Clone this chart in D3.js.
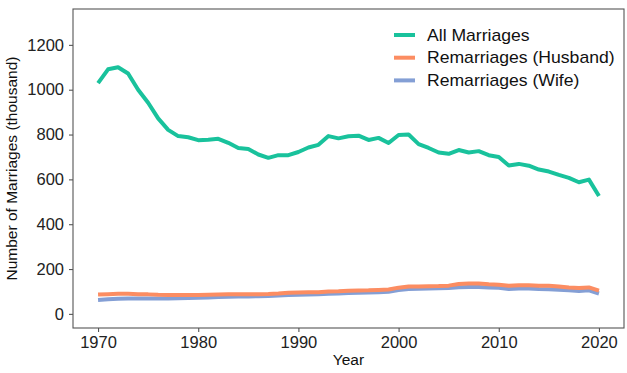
<!DOCTYPE html>
<html>
<head>
<meta charset="utf-8">
<script src="https://cdn.jsdelivr.net/npm/d3@7"></script>
<style>
  body { margin: 0; background: #fff; }
  text { font-family: "Liberation Sans", Arial, sans-serif; }
</style>
</head>
<body>
<svg id="chart" width="627" height="373"></svg>
<script>
// data (thousands)
var years = d3.range(1970, 2021);
var allMarriages = [1029, 1091, 1100, 1072, 1000, 942, 872, 821, 793, 788,
  775, 777, 781, 763, 740, 736, 711, 696, 708, 708,
  722, 742, 754, 793, 783, 792, 795, 776, 785, 762,
  798, 800, 757, 740, 720, 714, 731, 720, 726, 708,
  700, 662, 669, 661, 644, 635, 620, 607, 587, 599, 526];
var remHusband = [86, 88, 90, 90, 88, 87, 85, 84, 84, 84,
  84, 85, 86, 87, 87, 88, 88, 89, 91, 94,
  95, 96, 97, 100, 101, 103, 104, 105, 107, 109,
  117, 122, 122, 123, 124, 126, 133, 135, 135, 132,
  130, 125, 128, 128, 126, 125, 122, 118, 115, 118, 104];
var remWife = [62, 65, 68, 69, 69, 69, 69, 69, 70, 71,
  72, 73, 75, 76, 77, 78, 79, 80, 82, 84,
  85, 86, 87, 90, 91, 93, 94, 95, 97, 99,
  106, 111, 112, 113, 114, 115, 119, 120, 120, 118,
  116, 111, 113, 113, 111, 110, 108, 105, 102, 105, 91];
var seriesNames = ["All Marriages", "Remarriages (Husband)", "Remarriages (Wife)"];
var seriesColors = ["#19C29C", "#FC8D62", "#849FD5"];
var yTicks = [0, 200, 400, 600, 800, 1000, 1200];
var xTicks = [1970, 1980, 1990, 2000, 2010, 2020];

var svg = d3.select("#chart");
var margin = {left: 73, right: 3, top: 9, bottom: 45};
var width = 627 - margin.left - margin.right;
var height = 373 - margin.top - margin.bottom;

var x = d3.scaleLinear().domain([1967.5, 2022.5]).range([0, width]);
var y = d3.scaleLinear().domain([-63, 1360]).range([height, 0]);

var g = svg.append("g")
  .attr("transform", "translate(" + margin.left + "," + margin.top + ")");

// panel border
g.append("rect")
  .attr("width", width).attr("height", height)
  .attr("fill", "none").attr("stroke", "#555").attr("stroke-width", 1.1);

var xAxis = g.append("g")
  .attr("transform", "translate(0," + height + ")")
  .call(d3.axisBottom(x).tickValues(xTicks).tickFormat(d3.format("d")).tickSize(4).tickPadding(4));
var yAxis = g.append("g")
  .call(d3.axisLeft(y).tickValues(yTicks).tickFormat(d3.format("d")).tickSize(4).tickPadding(5));

[xAxis, yAxis].forEach(function(a) {
  a.select(".domain").remove();
  a.selectAll("line").attr("stroke", "#555").attr("stroke-width", 1.1);
  a.selectAll("text").attr("fill", "#222").style("font-size", "16.5px")
    .style("font-family", "'Liberation Sans', Arial, sans-serif");
});

var line = d3.line()
  .x(function(d, i) { return x(years[i]); })
  .y(function(d) { return y(d); });

var allSeries = [allMarriages, remHusband, remWife];
// draw wife first, then husband, then all on top
[2, 1, 0].forEach(function(k) {
  g.append("path")
    .datum(allSeries[k])
    .attr("d", line)
    .attr("fill", "none")
    .attr("stroke", seriesColors[k])
    .attr("stroke-width", 4)
    .attr("stroke-linejoin", "round");
});

// legend
var legend = g.append("g").attr("transform", "translate(321,26)");
seriesNames.forEach(function(name, i) {
  var row = legend.append("g").attr("transform", "translate(0," + (i * 22.7) + ")");
  row.append("line")
    .attr("x1", 0).attr("x2", 21)
    .attr("stroke", seriesColors[i]).attr("stroke-width", 4);
  row.append("text")
    .attr("transform", "translate(33,5.5)scale(1.1,1)")
    .attr("fill", "#111")
    .style("font-size", "16px")
    .text(name);
});

// axis titles
svg.append("text")
  .attr("x", margin.left + width / 2).attr("y", 365)
  .attr("text-anchor", "middle")
  .attr("fill", "#111")
  .style("font-size", "15.5px")
  .text("Year");

svg.append("text")
  .attr("transform", "translate(17," + (margin.top + height / 2) + ")rotate(-90)")
  .attr("text-anchor", "middle")
  .attr("fill", "#111")
  .style("font-size", "15.5px")
  .text("Number of Marriages (thousand)");
</script>
</body>
</html>
